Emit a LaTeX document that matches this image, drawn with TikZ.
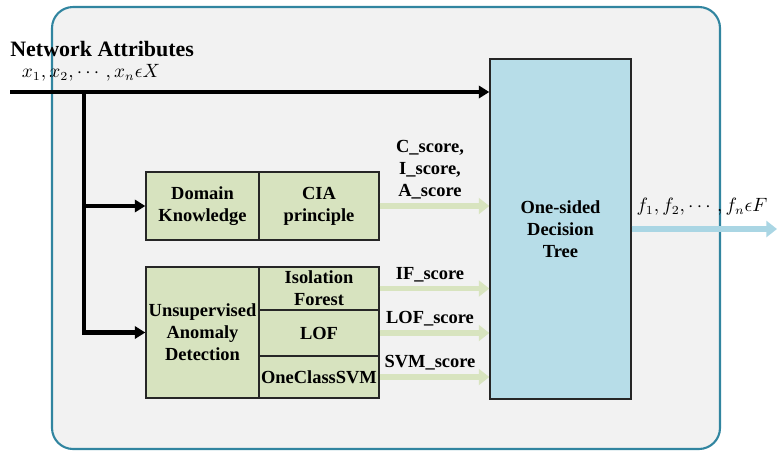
\documentclass[tikz,border=0pt]{standalone}
\usepackage{amsmath,amssymb}
\usepackage{fontspec}
\setmainfont{Liberation Serif}[BoldFont={Liberation Serif Bold}]
\usetikzlibrary{positioning,arrows.meta,calc}
\definecolor{framefill}{RGB}{242,242,242}
\definecolor{framedraw}{RGB}{49,133,160}
\definecolor{boxgreen}{RGB}{215,227,191}
\definecolor{arrowgreen}{RGB}{216,228,191}
\definecolor{boxblue}{RGB}{183,221,232}
\definecolor{arrowblue}{RGB}{170,214,228}
\tikzset{
  frame/.style={draw=framedraw,fill=framefill,line width=1.2pt,rounded corners=12pt},
  greenbox/.style={draw=black!85,fill=boxgreen,line width=0.8pt,align=center,inner xsep=0pt,inner ysep=1pt},
  bluebox/.style={draw=black!85,fill=boxblue,line width=0.8pt,align=center},
  blackarrow/.style={line width=2.3pt,-{Triangle[length=6pt,width=7pt]}},
  greenarrow/.style={draw=arrowgreen,line width=3pt,-{Triangle[length=6pt,width=9pt]}},
  bluearrow/.style={draw=arrowblue,line width=3pt,-{Triangle[length=6pt,width=9pt]}},
  scorelabel/.style={align=center,inner sep=0pt}
}
\begin{document}
\begin{tikzpicture}[x=0.02cm,y=-0.02cm,every node/.style={font=\rmfamily\bfseries\fontsize{10.5}{12.5}\selectfont}]
\useasboundingbox (0,0) rectangle (777,450);
\draw[frame] (52,7) rectangle (720,449);
% boxes
\node[greenbox,text width=2.26cm,minimum height=1.36cm] (dk) at (202.5,206) {Domain\\Knowledge};
\node[greenbox,text width=2.4cm,minimum height=1.36cm] (cia) at (319,206) {CIA\\principle};
\node[greenbox,text width=2.26cm,minimum height=2.62cm] (uad) at (202.5,332.5) {Unsupervised\\Anomaly\\Detection};
\node[greenbox,text width=2.4cm,minimum height=0.86cm] (iso) at (319,288.5) {Isolation\\Forest};
\node[greenbox,text width=2.4cm,minimum height=0.92cm] (lof) at (319,333) {LOF};
\node[greenbox,text width=2.4cm,minimum height=0.84cm] (svm) at (319,377) {OneClassSVM};
\node[bluebox,minimum width=2.82cm,minimum height=6.8cm] (tree) at (560.5,229) {One-sided\\Decision\\Tree};
% input
\node[anchor=west,inner sep=0pt,font=\rmfamily\bfseries\fontsize{12.5}{14}\selectfont] (attr) at (10,49) {Network Attributes};
\node[inner sep=0pt,font=\fontsize{10.5}{12}\selectfont] (xs) at (91,73) {$x_1,x_2,\cdots,x_n\epsilon X$};
\coordinate (in) at (10,92);
\coordinate (br) at (84,92);
\draw[blackarrow] (in) -- (in -| tree.west);
\draw[blackarrow] (br) |- (dk.west);
\draw[blackarrow] (br) |- (uad.west);
% scores
\draw[greenarrow] (cia.east) -- (cia.east -| tree.west);
\draw[greenarrow] (iso.east) -- (iso.east -| tree.west);
\draw[greenarrow] (lof.east) -- (lof.east -| tree.west);
\draw[greenarrow] (svm.east) -- (svm.east -| tree.west);
\node[scorelabel] (cialbl) at (430,170) {C\_score,\\I\_score,\\A\_score};
\node[scorelabel] (iflbl) at (430,275) {IF\_score};
\node[scorelabel] (loflbl) at (430,319) {LOF\_score};
\node[scorelabel] (svmlbl) at (430,363) {SVM\_score};
% output
\coordinate (out) at (777,229);
\draw[bluearrow] (tree.east) -- (out);
\node[inner sep=0pt,font=\fontsize{10.5}{12}\selectfont] (fs) at (702,207) {$f_1,f_2,\cdots,f_n\epsilon F$};
\end{tikzpicture}
\end{document}
